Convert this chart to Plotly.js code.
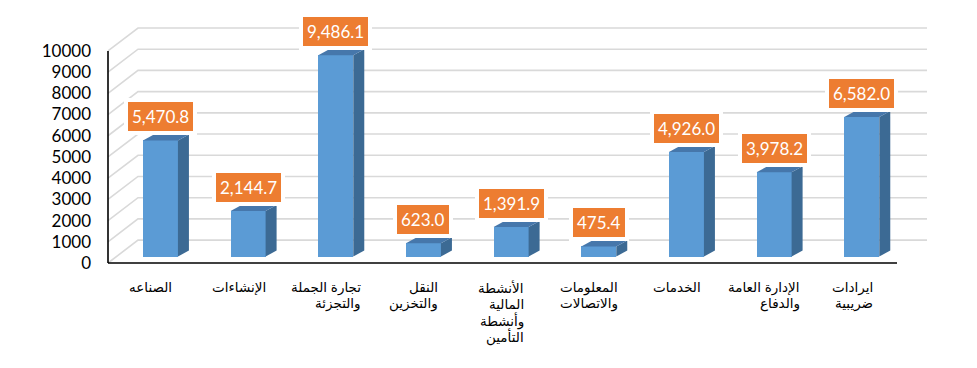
<!DOCTYPE html>
<html><head><meta charset="utf-8">
<script src="https://cdn.plot.ly/plotly-3.0.1.min.js"></script>
<style>body{margin:0;background:#fff}#chart{width:977px;height:368px}</style>
</head><body><div id="chart"></div>
<script>
// ---- data ----
const categories = ['الصناعه','الإنشاءات','تجارة الجملة<br>والتجزئة','النقل<br>والتخزين','الأنشطة<br>المالية<br>وأنشطة<br>التأمين','المعلومات<br>والاتصالات','الخدمات','الإدارة العامة<br>والدفاع','ايرادات<br>ضريبية'];
const values = [5470.8, 2144.7, 9486.1, 623.0, 1391.9, 475.4, 4926.0, 3978.2, 6582.0];
const yTicks = [0,1000,2000,3000,4000,5000,6000,7000,8000,9000,10000];

// ---- geometry (pixels) ----
const W=977, H=368;
const frontLeftPx=108, frontRightPx=897, zeroPx=263.5, pxPer1000=21.3;
const wallDx=30, wallDy=23, pad=3;
const barDx=8.6, barDy=6.5, barWpx=35, sideDx=11, sideDy=6;
const catFontSize=13.5, catFontFamily='Arial, "DejaVu Sans", sans-serif', catLineH=16.5, catFirstCenter=24.5;
const nCat = categories.length;
const unitPx = (frontRightPx-frontLeftPx)/nCat;
const pxY = pxPer1000/1000;
const ux = p => p/unitPx, uy = p => p/pxY;
const xa = -0.5, xe = nCat-0.5, yTop = yTicks[yTicks.length-1];
const plotL = frontLeftPx-pad, plotR = frontRightPx+wallDx+pad;
const plotB = zeroPx+pad, plotT = zeroPx - yTop*pxY - wallDy - pad;

// gridlines (back wall + side wall) as shapes below traces
const shapes = [];
yTicks.forEach(v => {
  const x1 = xa + ux(wallDx), y1 = v + uy(wallDy), x2 = xe + ux(wallDx);
  shapes.push({type:'path', xref:'x', yref:'y', layer:'below',
    path:`M${xa},${v} L${x1},${y1} L${x2},${y1}`,
    line:{color:'#D9D9D9', width:1.6}});
});
shapes.push({type:'line', xref:'x', yref:'y', x0:xa, x1:xa, y0:0, y1:yTop, line:{color:'#000', width:1.6}, layer:'above'});
shapes.push({type:'line', xref:'x', yref:'y', x0:xa, x1:xe, y0:0, y1:0, line:{color:'#000', width:1.6}, layer:'above'});

const idx = values.map((_,i)=>i);
const bx = idx.map(i => i + ux(barDx));
const base = uy(barDy), bw = ux(barWpx), sdx = ux(sideDx), sdy = uy(sideDy);

const traces = [];
values.forEach((v,i) => {
  const xr = bx[i] + bw/2, xl = bx[i] - bw/2, top = base + v;
  traces.push({type:'scatter', mode:'lines', fill:'toself', fillcolor:'#3C6A94', line:{width:0, color:'#3C6A94'}, hoverinfo:'skip', showlegend:false,
    x:[xr, xr+sdx, xr+sdx, xr, xr], y:[base, base+sdy, top+sdy, top, base]});
  traces.push({type:'scatter', mode:'lines', fill:'toself', fillcolor:'#4677AB', line:{width:0, color:'#4677AB'}, hoverinfo:'skip', showlegend:false,
    x:[xl, xl+sdx, xr+sdx, xr, xl], y:[top, top+sdy, top+sdy, top, top]});
});
traces.push({type:'bar', x:bx, y:values, base:base, width:bw, marker:{color:'#5B9BD5', line:{width:0}}, showlegend:false, hoverinfo:'skip'});

const fmt = v => v.toLocaleString('en-US',{minimumFractionDigits:1, maximumFractionDigits:1});
const annotations = [];
values.forEach((v,i) => {
  annotations.push({x:bx[i], y:base+v, xref:'x', yref:'y', text:fmt(v), showarrow:false,
    xanchor:'center', yanchor:'bottom', yshift:5,
    font:{family:'Lato, Arial, sans-serif', size:17, color:'#fff'},
    bgcolor:'#ED7D31', bordercolor:'#fff', borderwidth:4, borderpad:4});
});

// category labels: one annotation per line, lines right-aligned within a centred block
const ctx = document.createElement('canvas').getContext('2d');
ctx.font = catFontSize + 'px ' + catFontFamily;
categories.forEach((c,i) => {
  const lines = c.split('<br>');
  const maxW = Math.max(...lines.map(l => ctx.measureText(l).width));
  lines.forEach((l,k) => {
    annotations.push({x:i, y:0, xref:'x', yref:'y', text:l, showarrow:false,
      xanchor:'right', yanchor:'middle', xshift:maxW/2, yshift:-(catFirstCenter + k*catLineH), borderpad:0,
      font:{family:catFontFamily, size:catFontSize, color:'#000'}});
  });
});

const layout = {
  width:W, height:H, paper_bgcolor:'#fff', plot_bgcolor:'rgba(0,0,0,0)',
  margin:{l:plotL, r:W-plotR, t:plotT, b:H-plotB, pad:0},
  xaxis:{range:[xa-ux(pad), xe+ux(wallDx+pad)], showgrid:false, zeroline:false, showline:false, showticklabels:false, ticks:'', fixedrange:true},
  yaxis:{range:[-uy(pad), yTop+uy(wallDy+pad)], tickvals:yTicks, ticktext:yTicks.map(String), showgrid:false, zeroline:false, showline:false, ticks:'', ticklabelstandoff:13,
    tickfont:{family:'Lato, Arial, sans-serif', size:17, color:'#000'}, fixedrange:true},
  shapes:shapes, annotations:annotations, bargap:0
};
Plotly.newPlot('chart', traces, layout, {displayModeBar:false, staticPlot:true});
</script></body></html>
